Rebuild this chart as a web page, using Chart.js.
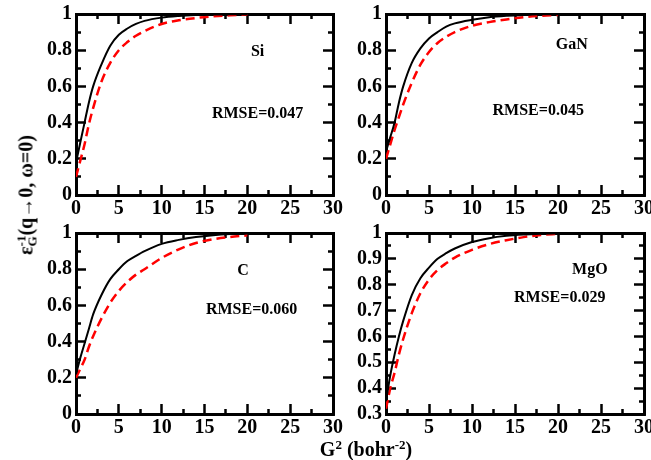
<!doctype html>
<html lang="en">
  <head>
    <title>Inverse dielectric function panels</title>
    <script src="https://cdn.jsdelivr.net/npm/chart.js@4/dist/chart.umd.min.js"></script>
    <style>
      body { margin: 0; width: 651px; height: 460px; overflow: hidden; background: #fff; position: relative; }
      .panel { position: absolute; }
      .title { position: absolute; white-space: nowrap; font: bold 20px "Liberation Serif", serif; color: #000; }
      .title sup { font-size: 13px; }
    </style>
  </head>
  <body>
    <div class="panel" style="left:20px; top:0px; width:330px; height:225px"><canvas id="si"></canvas></div>
    <div class="panel" style="left:330px; top:0px; width:340px; height:225px"><canvas id="gan"></canvas></div>
    <div class="panel" style="left:20px; top:219px; width:330px; height:225px"><canvas id="c"></canvas></div>
    <div class="panel" style="left:330px; top:219px; width:340px; height:225px"><canvas id="mgo"></canvas></div>

    <div class="title" style="left:26px; top:195px; transform:translate(-50%,-50%) rotate(-90deg)">ε<span style="display:inline-block; vertical-align:-4px; font-size:13px; line-height:11px; text-align:left"><span style="display:block">-1</span><span style="display:block">G</span></span>(q→0, ω=0)</div>
    <div class="title" style="left:366px; top:449px; transform:translate(-50%,-50%)">G<sup>2</sup> (bohr<sup>-2</sup>)</div>

    <script>
      // G^2 sample points (bohr^-2)
      const g2 = [0, 0.5, 1, 1.5, 2, 3, 4, 5, 6, 7, 8, 10, 12, 14, 16, 18, 20];

      // black solid = calculated, red dashed = model
      const siCalc   = [0.18, 0.29, 0.40, 0.51, 0.60, 0.725, 0.825, 0.885, 0.92, 0.945, 0.962, 0.98, 0.989, 0.994, 0.997, 0.998, 0.999];
      const siModel  = [0.10, 0.19, 0.28, 0.39, 0.48, 0.63, 0.73, 0.80, 0.845, 0.88, 0.905, 0.945, 0.965, 0.978, 0.987, 0.993, 0.997];
      const ganCalc  = [0.24, 0.32, 0.40, 0.51, 0.60, 0.73, 0.81, 0.865, 0.90, 0.93, 0.948, 0.968, 0.982, 0.99, 0.995, 0.998, 0.999];
      const ganModel = [0.20, 0.28, 0.36, 0.43, 0.50, 0.62, 0.72, 0.79, 0.84, 0.874, 0.90, 0.935, 0.955, 0.97, 0.982, 0.99, 0.995];
      const cCalc    = [0.22, 0.31, 0.39, 0.47, 0.55, 0.66, 0.745, 0.80, 0.845, 0.874, 0.90, 0.94, 0.962, 0.978, 0.988, 0.994, 0.997];
      const cModel   = [0.20, 0.25, 0.30, 0.37, 0.43, 0.53, 0.615, 0.68, 0.73, 0.77, 0.80, 0.862, 0.91, 0.945, 0.965, 0.978, 0.987];
      const mgoCalc  = [0.35, 0.45, 0.53, 0.60, 0.66, 0.76, 0.825, 0.866, 0.90, 0.922, 0.94, 0.965, 0.98, 0.989, 0.994, 0.997, 0.999];
      const mgoModel = [0.32, 0.40, 0.46, 0.53, 0.59, 0.69, 0.767, 0.82, 0.857, 0.883, 0.905, 0.935, 0.957, 0.972, 0.984, 0.992, 0.997];

      // tick labels
      const xTicks = [0, 5, 10, 15, 20, 25, 30];
      const yTicks = [0, 0.2, 0.4, 0.6, 0.8, 1];
      const yTicksMgO = [0.3, 0.4, 0.5, 0.6, 0.7, 0.8, 0.9, 1];

      const FONT = '"Liberation Serif", "Times New Roman", serif';
      const TICK_FONT = { family: FONT, size: 20, weight: 'bold' };

      // midpoints between major ticks -> minor tick positions
      const minors = t => t.slice(1).map((v, i) => +((v + t[i]) / 2).toFixed(3));

      // one axis: labelled ones carry the frame line, the others only add inward tick marks
      function axis(pos, lo, hi, values, len, opts = {}) {
        const horiz = pos === 'top' || pos === 'bottom';
        const size = opts.labels ? (horiz ? 30 : 56) : 0;
        return {
          type: 'linear', position: pos, min: lo, max: hi, z: 1,
          weight: opts.labels ? 1 : 0,
          grid: { display: true, drawOnChartArea: false, drawTicks: true, tickLength: -len, tickWidth: 2.5, tickColor: '#000' },
          border: { display: !!opts.border, width: 3, color: '#000' },
          afterBuildTicks: s => { s.ticks = values.map(v => ({ value: v })); },
          afterFit: s => {
            if (horiz) s.height = size; else s.width = size;
            // keep label overhang from shrinking the plot box
            s.paddingLeft = s.paddingRight = s.paddingTop = s.paddingBottom = 0;
          },
          ticks: {
            display: !!opts.labels, color: '#000', autoSkip: false, maxRotation: 0,
            padding: horiz ? 12 : 14, font: TICK_FONT,
            callback: v => String(+v.toFixed(2))
          }
        };
      }

      // panel notes (material name, RMSE), placed through the scales
      function notesPlugin(notes) {
        return {
          id: 'notes',
          afterDraw(chart) {
            const ctx = chart.ctx;
            const x = chart.scales.x, y = chart.scales.y;
            ctx.save();
            ctx.fillStyle = '#000';
            ctx.font = 'bold 16px ' + FONT;
            ctx.textAlign = 'center';
            ctx.textBaseline = 'middle';
            notes.forEach(t => ctx.fillText(t.text, x.getPixelForValue(t.x), y.getPixelForValue(t.y)));
            ctx.restore();
          }
        };
      }

      function panel(id, calc, model, yt, padRight, notes) {
        const pts = arr => g2.map((g, i) => ({ x: g, y: arr[i] }));
        const lo = yt[0];
        new Chart(document.getElementById(id), {
          type: 'line',
          data: {
            datasets: [
              { data: pts(calc), borderColor: '#000', borderWidth: 2 },
              { data: pts(model), borderColor: '#ff0000', borderWidth: 2.5, borderDash: [9, 5] }
            ]
          },
          options: {
            responsive: true,
            maintainAspectRatio: false,
            animation: false,
            layout: { padding: { top: 14, right: padRight, left: 0, bottom: 0 } },
            elements: {
              point: { radius: 0 },
              line: { cubicInterpolationMode: 'monotone', fill: false }
            },
            plugins: {
              legend: { display: false },
              tooltip: { enabled: false }
            },
            scales: {
              x:  axis('bottom', 0, 30, xTicks, 10, { labels: true, border: true }),
              xm: axis('bottom', 0, 30, minors(xTicks), 5),
              xt: axis('top', 0, 30, xTicks, 10, { border: true }),
              xtm: axis('top', 0, 30, minors(xTicks), 5),
              y:  axis('left', lo, 1, yt, 10, { labels: true, border: true }),
              ym: axis('left', lo, 1, minors(yt), 5),
              yr: axis('right', lo, 1, yt, 10, { border: true }),
              yrm: axis('right', lo, 1, minors(yt), 5)
            }
          },
          plugins: [notesPlugin(notes)]
        });
      }

      panel('si', siCalc, siModel, yTicks, 17,
        [{ text: 'Si', x: 21.2, y: 0.79 }, { text: 'RMSE=0.047', x: 21.2, y: 0.446 }]);
      panel('gan', ganCalc, ganModel, yTicks, 26,
        [{ text: 'GaN', x: 21.6, y: 0.83 }, { text: 'RMSE=0.045', x: 17.7, y: 0.463 }]);
      panel('c', cCalc, cModel, yTicks, 17,
        [{ text: 'C', x: 19.5, y: 0.79 }, { text: 'RMSE=0.060', x: 20.5, y: 0.573 }]);
      panel('mgo', mgoCalc, mgoModel, yTicksMgO, 26,
        [{ text: 'MgO', x: 23.7, y: 0.857 }, { text: 'RMSE=0.029', x: 20.2, y: 0.748 }]);
    </script>
  </body>
</html>
